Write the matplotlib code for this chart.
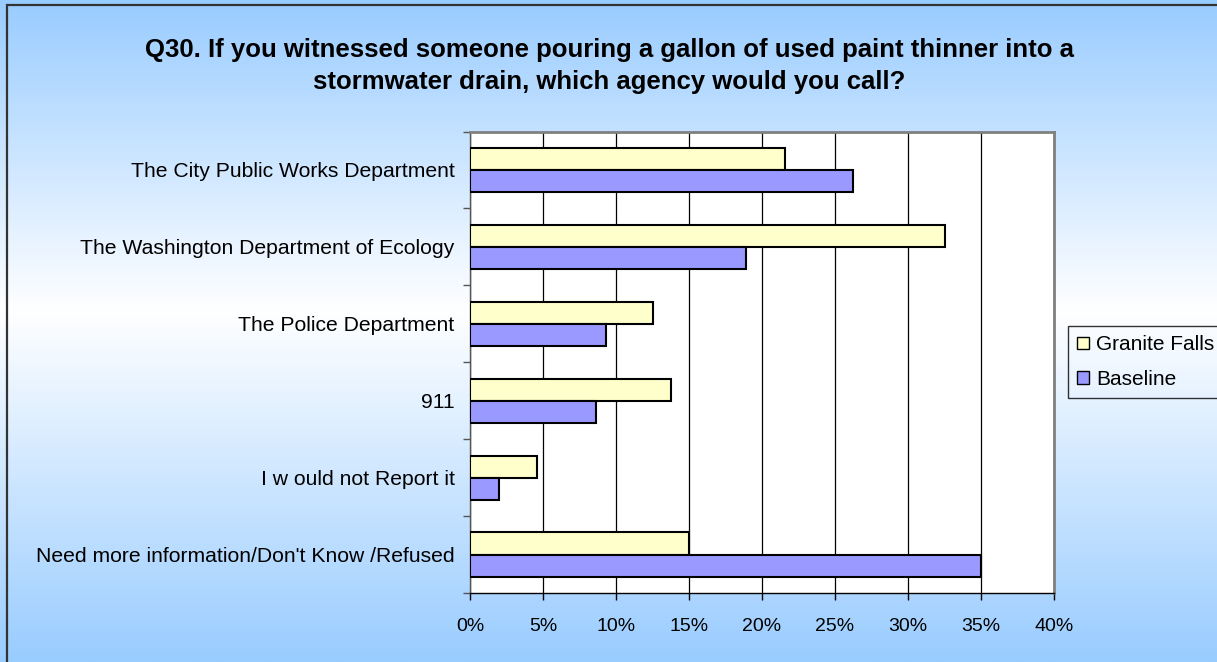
import numpy as np
import matplotlib
matplotlib.use("Agg")
import matplotlib.pyplot as plt
from matplotlib.colors import LinearSegmentedColormap
from matplotlib.patches import Rectangle, Patch

plt.rcParams['font.family'] = ['Liberation Sans', 'DejaVu Sans']

categories = [
    "The City Public Works Department",
    "The Washington Department of Ecology",
    "The Police Department",
    "911",
    "I w ould not Report it",
    "Need more information/Don't Know /Refused",
]
granite_falls = [21.6, 32.5, 12.5, 13.8, 4.6, 15.0]
baseline = [26.2, 18.9, 9.3, 8.6, 2.0, 35.0]
series_names = ["Granite Falls", "Baseline"]
xticks = [0, 5, 10, 15, 20, 25, 30, 35, 40]
xticklabels = ["0%", "5%", "10%", "15%", "20%", "25%", "30%", "35%", "40%"]
title = ("Q30. If you witnessed someone pouring a gallon of used paint thinner into a\n"
         "stormwater drain, which agency would you call?")

W, H = 1217, 662
fig = plt.figure(figsize=(W / 100, H / 100), dpi=100)

# background gradient
bg = fig.add_axes([0, 0, 1, 1], zorder=-10)
cmap = LinearSegmentedColormap.from_list(
    "bgc", [(0.0, "#99CCFF"), (0.47, "#FFFFFF"), (1.0, "#99CCFF")])
grad = np.linspace(0, 1, 256).reshape(-1, 1)
bg.imshow(grad, aspect="auto", cmap=cmap, extent=[0, 1, 0, 1], origin="upper")
bg.set_xlim(0, 1)
bg.set_ylim(0, 1)
bg.axis("off")
# outer frame
bg.add_patch(Rectangle((7 / W, -0.1), 1.2, 1 - 5 / H + 0.1, fill=False,
                       edgecolor="#333333", linewidth=1.6))


def px(x0, y0, x1, y1):
    return [x0 / W, 1 - y1 / H, (x1 - x0) / W, (y1 - y0) / H]


ax = fig.add_axes(px(470, 131.5, 1054, 593.3))
ax.set_facecolor("white")

n = len(categories)
y = np.arange(n)
h = 0.29
ax.barh(y - h / 2, granite_falls, height=h, color="#FFFFCC", edgecolor="black",
        linewidth=1.5, label=series_names[0], zorder=3)
ax.barh(y + h / 2, baseline, height=h, color="#9999FF", edgecolor="black",
        linewidth=1.5, label=series_names[1], zorder=3)

ax.set_ylim(n - 0.5, -0.5)
ax.set_xlim(0, 40)
ax.set_xticks(xticks)
ax.set_xticklabels(xticklabels, fontsize=14)
ax.set_yticks(y)
ax.set_yticklabels(categories, fontsize=15.2)
ax.set_yticks(np.arange(-0.5, n, 1), minor=True)
ax.tick_params(axis="y", which="major", length=0, pad=11)
ax.tick_params(axis="y", which="minor", length=5, width=1, color="#555555")
ax.tick_params(axis="x", which="major", length=5, width=1, pad=13, color="black")
ax.xaxis.grid(True, color="black", linewidth=0.9, zorder=1)
ax.set_axisbelow(True)

for s in ["top", "right"]:
    ax.spines[s].set_color("#808080")
    ax.spines[s].set_linewidth(2)
ax.spines["left"].set_color("#555555")
ax.spines["left"].set_linewidth(1)
ax.spines["bottom"].set_color("black")
ax.spines["bottom"].set_linewidth(1)

fig.text(609.5 / W, 1 - 66 / H, title, ha="center", va="center",
         fontsize=18.5, fontweight="bold", linespacing=1.45)

handles = [Patch(facecolor="#FFFFCC", edgecolor="black", linewidth=1),
           Patch(facecolor="#9999FF", edgecolor="black", linewidth=1)]
leg = fig.legend(handles, series_names, loc="upper left",
                 bbox_to_anchor=(1068 / W, 1 - 326 / H), fontsize=15,
                 frameon=True, fancybox=False, handlelength=0.55, handleheight=0.55,
                 handletextpad=0.35, labelspacing=0.75, borderpad=0.45,
                 borderaxespad=0)
leg.get_frame().set_edgecolor("black")
leg.get_frame().set_linewidth(1)
leg.get_frame().set_facecolor("none")

fig.savefig("out.png", dpi=100)
